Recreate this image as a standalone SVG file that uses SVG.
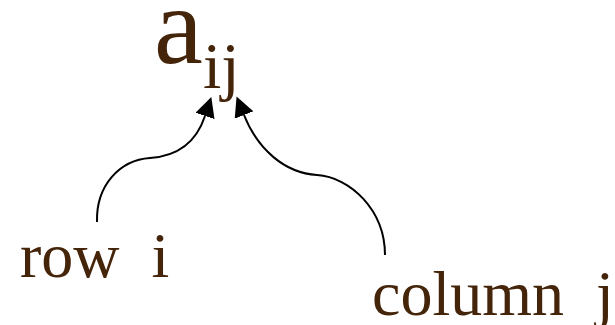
<svg xmlns="http://www.w3.org/2000/svg" width="615" height="325" viewBox="0 0 615 325">
<style>
.t{font-family:"Liberation Serif","Times New Roman",serif;fill:#45250a;white-space:pre}
.c{fill:none;stroke:#000;stroke-width:2}
</style>
<defs>
<marker id="ah" viewBox="0 0 20 20" refX="0" refY="10" markerWidth="20" markerHeight="20" markerUnits="userSpaceOnUse" orient="auto">
<path d="M0,0 L20,10 L0,20 z" fill="#000"/>
</marker>
</defs>
<rect width="615" height="325" fill="#fff"/>
<g id="element">
<text class="t" x="154" y="63" font-size="110">a</text>
<text class="t" x="203" y="88" font-size="66">ij</text>
</g>
<g id="row">
<text class="t" x="20" y="277" font-size="64" xml:space="preserve">row  i</text>
</g>
<g id="column">
<text class="t" x="372" y="315" font-size="64" xml:space="preserve">column  j</text>
</g>
<g id="connectors">
<path class="c" marker-end="url(#ah)" d="M97,222 C96,185 120,160 150,158 C180,156 197,140 205,116"/>
<path class="c" marker-end="url(#ah)" d="M385,255 C385,210 350,177 317,175 C285,173 258,150 244,115"/>
</g>
</svg>
